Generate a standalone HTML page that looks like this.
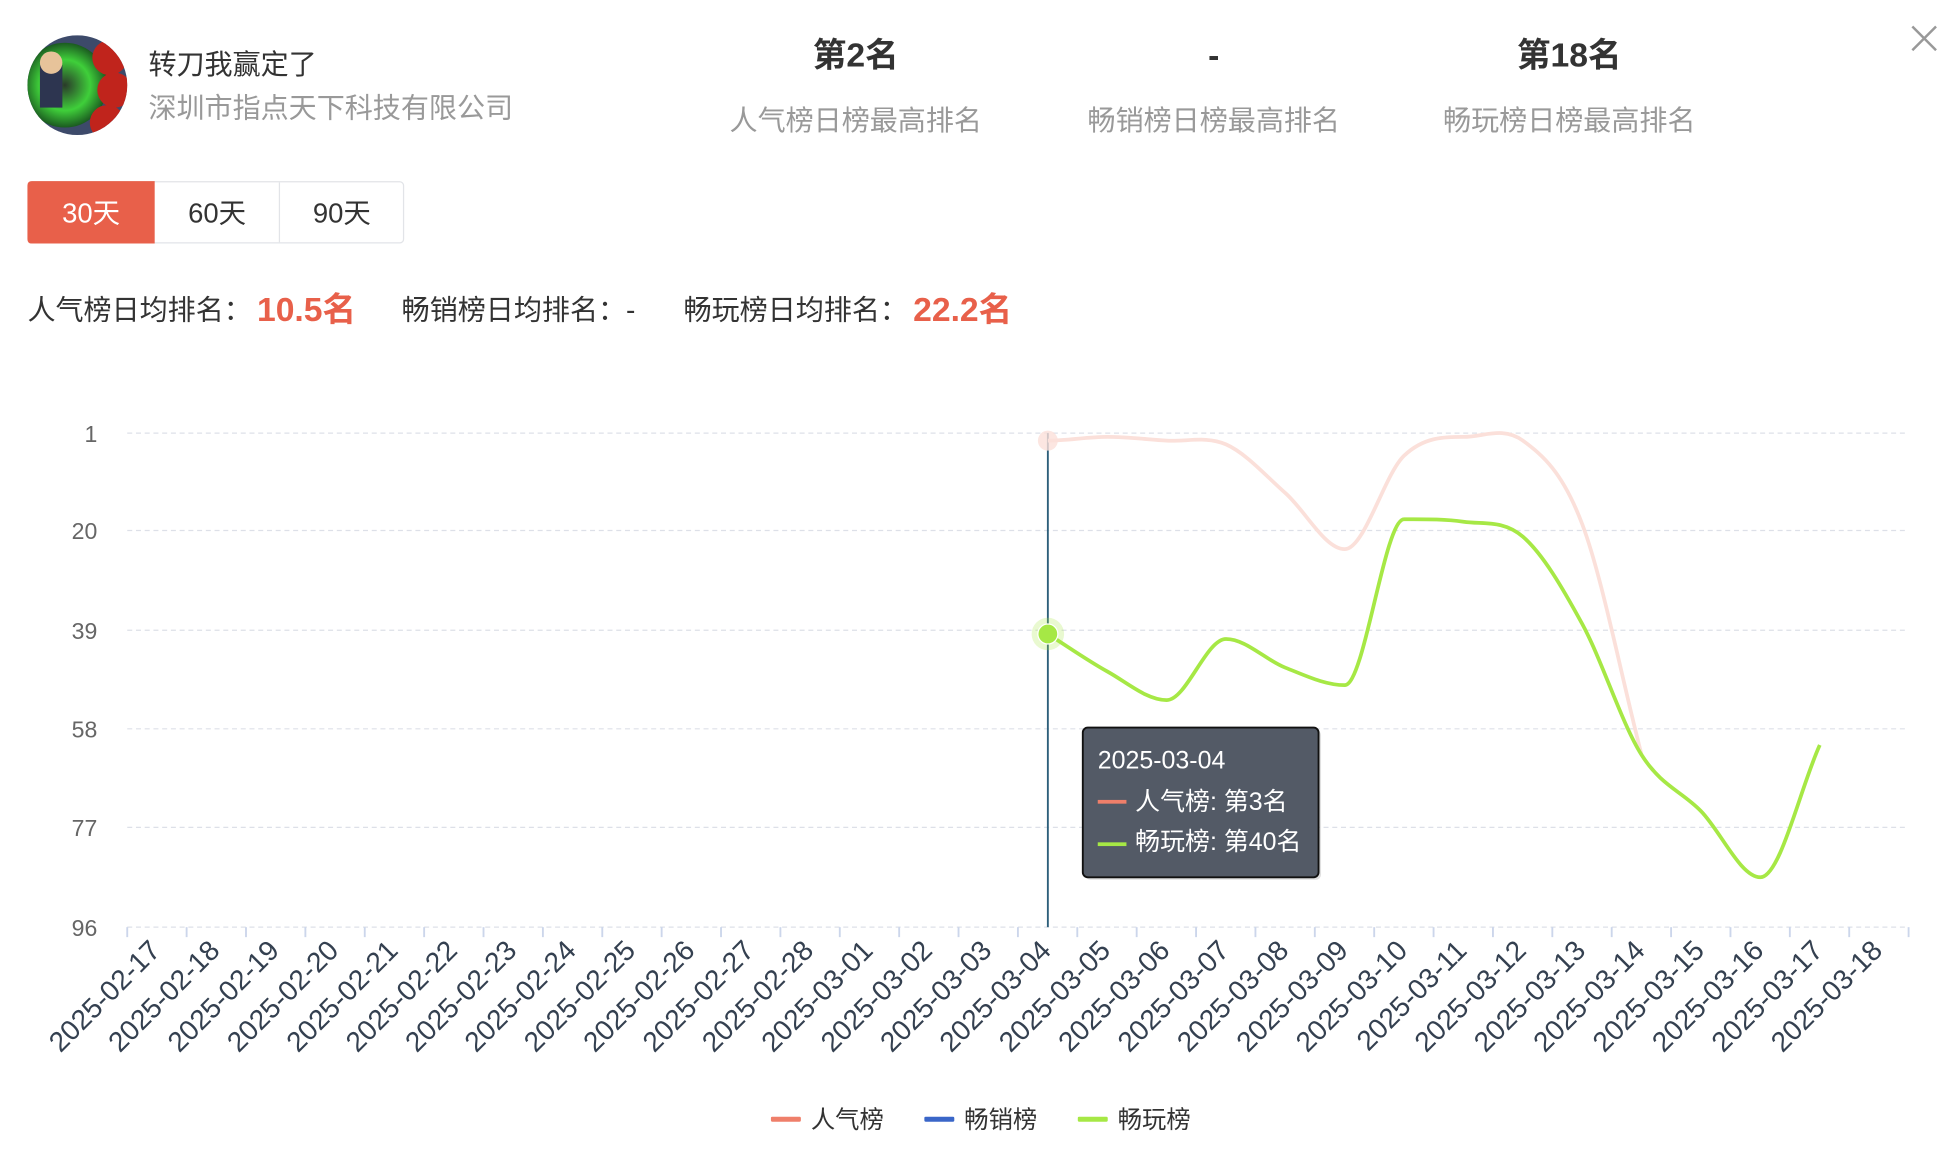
<!DOCTYPE html>
<html><head><meta charset="utf-8"><style>
html,body{margin:0;padding:0;background:#fff;width:1956px;height:1152px;overflow:hidden}
svg{display:block}
text{font-family:"Liberation Sans","Noto Sans CJK SC",sans-serif}
</style></head><body>
<svg width="1956" height="1152" viewBox="0 0 1568 923" xmlns="http://www.w3.org/2000/svg">
<defs>
<radialGradient id="av" cx="0.5" cy="0.5" r="0.5">
<stop offset="0" stop-color="#2a3a2a"/><stop offset="0.6" stop-color="#3fcf3a"/><stop offset="1" stop-color="#1b5a20"/>
</radialGradient>
<clipPath id="cc"><circle cx="62" cy="68" r="40"/></clipPath>
</defs>
<rect width="1568" height="923" fill="#fff"/>
<g clip-path="url(#cc)">
<rect x="22" y="28" width="80" height="80" fill="#3d4a6a"/>
<circle cx="52" cy="68" r="34" fill="url(#av)"/>
<circle cx="88" cy="46" r="14" fill="#c0241c"/>
<circle cx="92" cy="72" r="14" fill="#c0241c"/>
<circle cx="86" cy="98" r="14" fill="#c0241c"/>
<rect x="32" y="52" width="18" height="34" fill="#2d3550"/>
<circle cx="41" cy="50" r="9" fill="#e7c39a"/>
</g>
<text x="119" y="59" font-size="22.5" fill="#333">转刀我赢定了</text>
<text x="119" y="94" font-size="22.5" fill="#999">深圳市指点天下科技有限公司</text>
<text x="686" y="53" font-size="27" font-weight="bold" fill="#333" text-anchor="middle">第2名</text>
<text x="973" y="53" font-size="27" font-weight="bold" fill="#333" text-anchor="middle">-</text>
<text x="1258" y="53" font-size="27" font-weight="bold" fill="#333" text-anchor="middle">第18名</text>
<text x="686" y="104" font-size="22.5" fill="#999" text-anchor="middle">人气榜日榜最高排名</text>
<text x="973" y="104" font-size="22.5" fill="#999" text-anchor="middle">畅销榜日榜最高排名</text>
<text x="1258" y="104" font-size="22.5" fill="#999" text-anchor="middle">畅玩榜日榜最高排名</text>
<path d="M1533,21 L1552,40 M1552,21 L1533,40" stroke="#999" stroke-width="2"/>
<rect x="22.5" y="145.5" width="301" height="49" rx="3" fill="#fff" stroke="#e2e4e8"/>
<line x1="224" y1="146" x2="224" y2="194" stroke="#e2e4e8"/>
<path d="M25.5,145 H124 V195 H25.5 Q22,195 22,191.5 V148.5 Q22,145 25.5,145Z" fill="#e8604a"/>
<text x="73" y="178" font-size="22" fill="#fff" text-anchor="middle">30天</text>
<text x="174" y="178" font-size="22" fill="#333" text-anchor="middle">60天</text>
<text x="274" y="178" font-size="22" fill="#333" text-anchor="middle">90天</text>
<text x="22" y="256" font-size="22.5" fill="#333">人气榜日均排名：</text>
<text x="206" y="257" font-size="27" font-weight="bold" fill="#e8604a">10.5名</text>
<text x="322" y="256" font-size="22.5" fill="#333">畅销榜日均排名：-</text>
<text x="548" y="256" font-size="22.5" fill="#333">畅玩榜日均排名：</text>
<text x="732" y="257" font-size="27" font-weight="bold" fill="#e8604a">22.2名</text>
<g stroke="#dde0e8" stroke-dasharray="4,3" stroke-width="1">
<line x1="102" y1="347" x2="1530" y2="347"/>
<line x1="102" y1="425" x2="1530" y2="425"/>
<line x1="102" y1="505" x2="1530" y2="505"/>
<line x1="102" y1="584" x2="1530" y2="584"/>
<line x1="102" y1="663" x2="1530" y2="663"/>
<line x1="102" y1="743" x2="1530" y2="743"/>
</g>
<g font-size="18.5" fill="#666" text-anchor="end">
<text x="78" y="354">1</text><text x="78" y="432">20</text><text x="78" y="512">39</text>
<text x="78" y="591">58</text><text x="78" y="670">77</text><text x="78" y="750">96</text>
</g>
<g id="ticks" stroke="#ccd6eb" stroke-width="1.5"></g>
<g id="xl" font-size="22.5" fill="#344050" text-anchor="end"></g>
<line x1="840" y1="347" x2="840" y2="743" stroke="#2d5f7a" stroke-width="1.5"/>
<path d="M840,353 C855.9,353 871.7,350 887.6,350 C903.5,350 919.3,352 935.2,353 C951.1,354 966.9,349 982.8,356 C998.7,363 1014.5,381 1030.4,395 C1046.3,409 1062.1,440 1078,440 C1093.9,440 1109.7,380 1125.6,365 C1141.5,350 1157.3,350 1173.2,350 C1189.1,350 1204.9,341.3 1220.8,353 C1236.7,364.7 1252.5,378 1268.4,420 C1284.3,462 1300.1,544 1316,605" fill="none" stroke="#fbe0da" stroke-width="3"/>
<circle cx="840" cy="353" r="8" fill="#fbe0da" opacity="0.8"/>
<path d="M840,508 C855.9,518 871.7,529.2 887.6,538 C903.5,546.8 919.3,561 935.2,561 C951.1,561 966.9,512 982.8,512 C998.7,512 1014.5,528.8 1030.4,535 C1046.3,541.2 1062.1,549 1078,549 C1093.9,549 1109.7,416 1125.6,416 C1141.5,416 1157.3,415.7 1173.2,418 C1189.1,420.3 1204.9,416.3 1220.8,430 C1236.7,443.7 1252.5,470.8 1268.4,500 C1284.3,529.2 1300.1,580 1316,605 C1331.9,630 1347.7,633.7 1363.6,650 C1379.5,666.3 1395.3,703 1411.2,703 C1427.1,703 1442.9,632 1458.8,597" fill="none" stroke="#a6e845" stroke-width="3"/>
<circle cx="840" cy="508" r="13" fill="#a6e845" opacity="0.25"/>
<circle cx="840" cy="508" r="8" fill="#a6e845" stroke="#fff" stroke-width="1"/>
<rect x="870" y="585" width="189" height="120" rx="4" fill="#000" opacity="0.12"/>
<rect x="868" y="583" width="189" height="120" rx="4" fill="#535a66" stroke="#111" stroke-width="1.5"/>
<text x="880" y="616" font-size="20" fill="#fff">2025-03-04</text>
<rect x="880" y="641" width="23" height="3" fill="#ef7f6a"/>
<text x="910" y="649" font-size="20" fill="#fff">人气榜: 第3名</text>
<rect x="880" y="675" width="23" height="3" fill="#a6e845"/>
<text x="910" y="681" font-size="20" fill="#fff">畅玩榜: 第40名</text>
<rect x="618" y="895" width="24" height="4" rx="1" fill="#ef7f6a"/>
<text x="650" y="904" font-size="19.5" fill="#333">人气榜</text>
<rect x="741" y="895" width="24" height="4" rx="1" fill="#3a66c8"/>
<text x="773" y="904" font-size="19.5" fill="#333">畅销榜</text>
<rect x="864" y="895" width="24" height="4" rx="1" fill="#a6e845"/>
<text x="896" y="904" font-size="19.5" fill="#333">畅玩榜</text>
</svg>
<script>
(function(){
var ns="http://www.w3.org/2000/svg";
var t=document.getElementById("ticks"),xl=document.getElementById("xl");
var dates=[];
for(var d=17;d<=28;d++)dates.push("2025-02-"+d);
for(var d=1;d<=18;d++)dates.push("2025-03-"+(d<10?"0"+d:d));
for(var i=0;i<=30;i++){var x=102+47.6*i;var l=document.createElementNS(ns,"line");
l.setAttribute("x1",x);l.setAttribute("x2",x);l.setAttribute("y1",743);l.setAttribute("y2",751);t.appendChild(l);}
for(var i=0;i<30;i++){var cx=102+47.6*(i+0.5)+4;var tx=document.createElementNS(ns,"text");
tx.setAttribute("x",cx);tx.setAttribute("y",763);tx.setAttribute("transform","rotate(-45 "+cx+" 763)");
tx.textContent=dates[i];xl.appendChild(tx);}
})();
</script>
</body></html>
